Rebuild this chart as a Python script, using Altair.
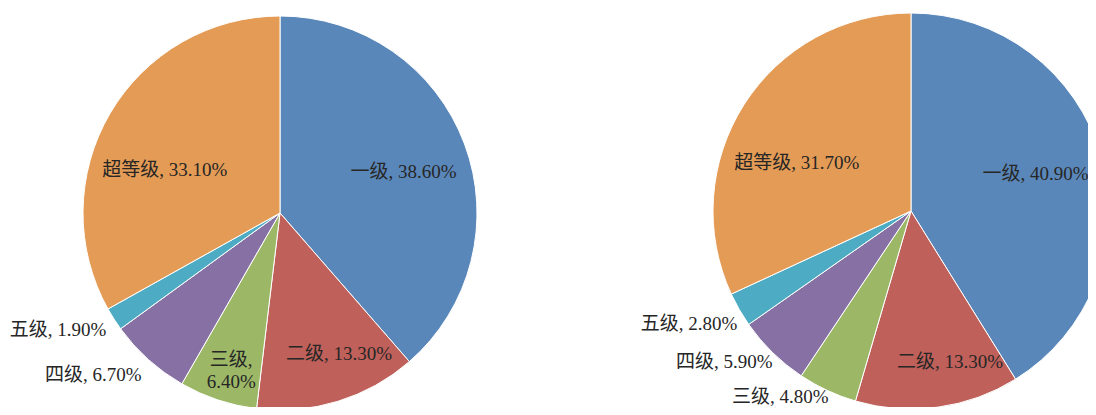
import altair as alt
import pandas as pd

categories = ["一级", "二级", "三级", "四级", "五级", "超等级"]
values_left = [38.6, 13.3, 6.4, 6.7, 1.9, 33.1]
values_right = [40.9, 13.3, 4.8, 5.9, 2.8, 31.7]
colors = ["#5a87b9", "#c0605a", "#9cb866", "#8770a3", "#4dacc4", "#e49b55"]

# label layout: (radius px, angle tweak deg, line separator)
layout_left = {
    "一级": (130, 2.2, ", "), "二级": (153, -5.6, ", "), "三级": (155, 0.0, ",\n"),
    "四级": (247, 7.2, ", "), "五级": (251, 4.8, ", "), "超等级": (123, -9.9, ", "),
}
layout_right = {
    "一级": (130, -0.6, ", "), "二级": (156, -6.7, ", "), "三级": (227, 10.2, ", "),
    "四级": (240, 6.7, ", "), "五级": (249, 2.9, ", "), "超等级": (124, -9.8, ", "),
}

FONT = "Liberation Serif, Noto Sans CJK SC"


def make_df(values, layout):
    return pd.DataFrame({
        "cat": categories,
        "value": values,
        "order": list(range(len(categories))),
        "label": [f"{c}{layout[c][2]}{v:.2f}%" for c, v in zip(categories, values)],
    })


def pie(values, layout, cx, cy, r):
    df = make_df(values, layout)
    arc = alt.Chart(df).mark_arc(radius=r, stroke="white", strokeWidth=1).encode(
        theta=alt.Theta("value:Q", stack=True),
        color=alt.Color("cat:N", scale=alt.Scale(domain=categories, range=colors), legend=None),
        order=alt.Order("order:Q"),
        x=alt.value(cx),
        y=alt.value(cy),
    )
    layers = [arc]
    for c in categories:
        rad, dang, _ = layout[c]
        t = (
            alt.Chart(df)
            .transform_window(cum="sum(value)", sort=[alt.SortField("order")])
            .transform_joinaggregate(total="sum(value)")
            .transform_calculate(ang=f"2*PI*(datum.cum - datum.value/2)/datum.total + ({dang})*PI/180")
            .transform_filter(alt.datum.cat == c)
            .mark_text(radius=rad, font=FONT, fontSize=19, color="#262626",
                       align="center", baseline="middle", lineBreak="\n", lineHeight=22)
            .encode(
                theta=alt.Theta("ang:Q", scale=None),
                text=alt.Text("label:N"),
                x=alt.value(cx),
                y=alt.value(cy),
            )
        )
        layers.append(t)
    return alt.layer(*layers)


chart = alt.layer(
    pie(values_left, layout_left, 272, 205, 197),
    pie(values_right, layout_right, 903, 203, 198),
).resolve_scale(theta="independent").properties(
    width=1080, height=399, padding=0,
    autosize=alt.AutoSizeParams(type="none"),
).configure_view(strokeWidth=0, stroke="transparent")

chart.save("out.html", embed_options={"renderer": "svg", "actions": False})
